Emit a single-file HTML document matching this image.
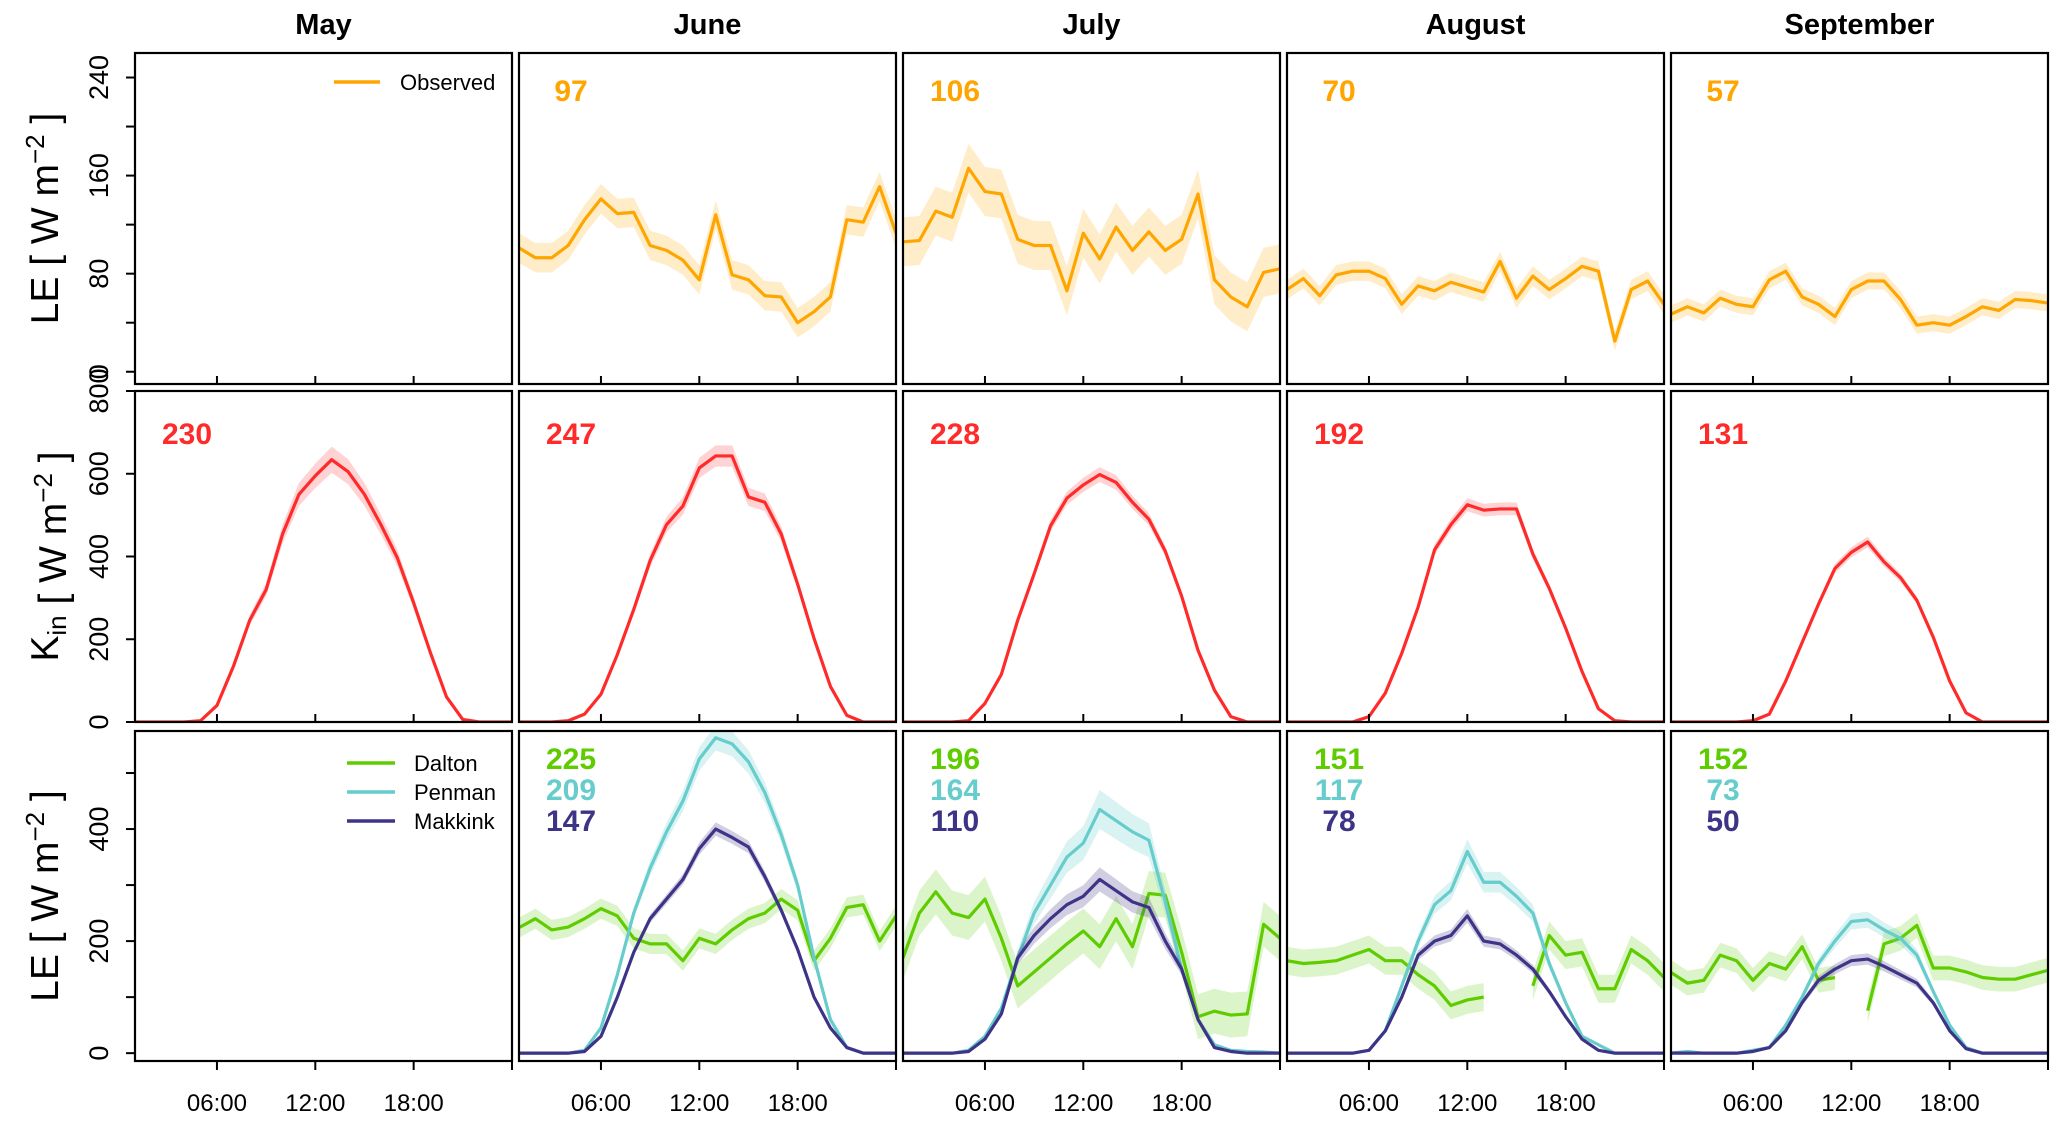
<!DOCTYPE html>
<html><head><meta charset="utf-8"><style>
html,body{margin:0;padding:0;background:#fff;}
svg text{font-family:"Liberation Sans",Arial,sans-serif;}
.nar{font-family:"Liberation Sans Narrow","Liberation Sans",sans-serif;font-weight:bold;}
</style></head><body>
<svg id="chart" width="2067" height="1123" viewBox="0 0 2067 1123" xmlns="http://www.w3.org/2000/svg"></svg>
<script>
const months = ["May","June","July","August","September"];
const hours = [1,2,3,4,5,6,7,8,9,10,11,12,13,14,15,16,17,18,19,20,21,22,23,24];
const xTicks = [6,12,18,24];
const xTickLabels = ["06:00","12:00","18:00",""];
const obsTicks = [0,40,80,120,160,200,240];
const obsTickLabels = ["0","","80","","160","","240"];
const kinTicks = [0,200,400,600,800];
const modTicks = [0,100,200,300,400,500];
const modTickLabels = ["0","","200","","400",""];
const obsMeanLabel = [null,"97","106","70","57"];
const kinMeanLabel = ["230","247","228","192","131"];
const daltonMeanLabel = [null,"225","196","151","152"];
const penmanMeanLabel = [null,"209","164","117","73"];
const makkinkMeanLabel = [null,"147","110","78","50"];

const obsJune = [101,93,93,103,124,141,129,130,103,99,91,75,128,79,75,62,61,40,49,61,124,122,151,113];
const obsJuly = [106,107,131,126,166,147,145,108,103,103,66,113,92,118,99,114,99,108,145,75,61,53,81,84];
const obsAug = [67,76,62,79,82,82,76,55,70,66,73,69,65,90,60,78,67,76,86,82,25,67,74,55];
const obsSep = [47,53,48,60,55,53,75,82,61,55,45,67,74,74,59,38,40,38,45,53,50,59,58,56];
const obsBand = [0,12,20,8,7];

const kinMay = [0,0,0,0,3,40,134,246,320,454,550,595,634,605,550,477,397,288,170,61,6,0,0,0];
const kinJune = [0,0,0,3,19,67,163,272,390,477,522,614,643,643,544,531,454,333,202,86,16,0,0,0];
const kinJuly = [0,0,0,0,3,45,115,246,358,474,541,573,598,579,531,490,413,304,173,77,13,0,0,0];
const kinAug = [0,0,0,0,0,13,70,166,278,416,477,525,512,515,515,406,323,227,122,32,3,0,0,0];
const kinSep = [0,0,0,0,0,3,19,99,192,285,371,410,435,387,349,294,205,99,22,0,0,0,0,0];
const kinBandFrac = [0.05,0.04,0.03,0.03,0.03];

const daltonJune = [224,240,220,225,240,258,245,205,195,195,165,205,195,220,240,250,275,255,165,205,260,265,200,245];
const daltonJuly = [170,250,288,250,242,275,205,120,145,170,195,218,190,240,190,285,282,180,65,75,68,70,230,205];
const daltonAug = [165,160,162,165,175,185,165,165,140,120,85,95,100,null,null,120,210,175,180,115,115,185,165,135];
const daltonSep = [144,125,130,175,165,130,160,150,190,130,135,null,76,195,205,228,152,152,145,135,132,132,140,148];
const penmanJune = [0,0,0,0,5,45,140,250,330,395,450,525,563,552,520,465,390,300,170,60,10,0,0,0];
const penmanJuly = [0,0,0,0,5,30,80,170,250,300,350,375,435,415,395,380,270,150,60,15,5,3,2,0];
const penmanAug = [0,0,0,0,0,5,40,120,200,265,290,360,305,305,280,250,160,90,30,15,0,0,0,0];
const penmanSep = [0,3,0,0,0,5,10,50,100,160,200,235,238,220,205,175,110,50,10,0,0,0,0,0];
const makkinkJune = [0,0,0,0,3,30,100,180,240,275,310,365,400,385,368,315,255,185,100,45,10,0,0,0];
const makkinkJuly = [0,0,0,0,3,25,70,170,210,240,265,280,310,290,270,260,200,150,60,10,3,0,0,0];
const makkinkAug = [0,0,0,0,0,5,40,100,175,200,210,245,200,195,175,150,110,65,25,5,0,0,0,0];
const makkinkSep = [0,0,0,0,0,3,10,40,90,130,150,165,168,155,140,125,90,40,8,0,0,0,0,0];
const daltonBand = [0,18,40,25,22];
const penmanBandFrac = [0,0.04,0.08,0.06,0.06];
const makkinkBandFrac = [0,0.03,0.07,0.05,0.06];

const obsSeries = [null,obsJune,obsJuly,obsAug,obsSep];
const kinSeries = [kinMay,kinJune,kinJuly,kinAug,kinSep];
const daltonSeries = [null,daltonJune,daltonJuly,daltonAug,daltonSep];
const penmanSeries = [null,penmanJune,penmanJuly,penmanAug,penmanSep];
const makkinkSeries = [null,makkinkJune,makkinkJuly,makkinkAug,makkinkSep];

const C = {obs:"#FFA500",obsF:"rgba(255,196,80,0.3)",kin:"#FF2A2A",kinF:"rgba(255,80,80,0.25)",
  dal:"#5FCC00",dalF:"rgba(110,210,40,0.25)",pen:"#66CCCC",penF:"rgba(102,204,204,0.25)",mak:"#3D3487",makF:"rgba(70,60,140,0.25)"};
const colX = [135,519,903,1287,1671], colW = 377;
const rows = [{top:53,bot:384,min:-10,max:260},{top:391,bot:722,min:0,max:800},{top:731,bot:1061,min:-14,max:575}];
const svg = document.getElementById('chart');
const NS = "http://www.w3.org/2000/svg";
function mk(tag, attrs, parent){const e=document.createElementNS(NS,tag);for(const k in attrs)e.setAttribute(k,attrs[k]);(parent||svg).appendChild(e);return e;}
function xS(c,h){return colX[c]+(h-1)/23*colW;}
function yS(r,v){const R=rows[r];return R.bot-(v-R.min)/(R.max-R.min)*(R.bot-R.top);}

const defs = mk('defs',{});
for(let r=0;r<3;r++)for(let c=0;c<5;c++){
  const cp=mk('clipPath',{id:'cp'+r+c},defs);
  mk('rect',{x:colX[c],y:rows[r].top,width:colW,height:rows[r].bot-rows[r].top},cp);
}
function segments(vals){const segs=[];let cur=[];vals.forEach((v,i)=>{if(v===null){if(cur.length)segs.push(cur);cur=[];}else cur.push(i);});if(cur.length)segs.push(cur);return segs;}
function drawSeries(r,c,vals,band,fracMode,col,fill,name){
  const g=mk('g',{'clip-path':'url(#cp'+r+c+')'});
  
  
  segments(vals).forEach(seg=>{
    let up=[],lo=[];
    seg.forEach(i=>{const b=fracMode?vals[i]*band:band;up.push(xS(c,hours[i])+','+yS(r,vals[i]+b));lo.unshift(xS(c,hours[i])+','+yS(r,vals[i]-b));});
    const p=mk('polygon',{points:up.concat(lo).join(' '),fill:fill,stroke:'none'},g);
    
    
    const l=mk('polyline',{points:seg.map(i=>xS(c,hours[i])+','+yS(r,vals[i])).join(' '),fill:'none',stroke:col,'stroke-width':3.2,'stroke-linejoin':'round'},g);
    
    
  });
}
function txt(x,y,s,attrs,name){const t=mk('text',Object.assign({x:x,y:y},attrs));t.textContent=s;return t;}

months.forEach((m,c)=>{txt(colX[c]+colW/2,34,m,{'font-size':29,'font-weight':'bold','text-anchor':'middle'},'month-title-'+m.toLowerCase());});

for(let c=0;c<5;c++){
  if(obsSeries[c]) drawSeries(0,c,obsSeries[c],obsBand[c],false,C.obs,C.obsF,'observed-le-'+months[c].toLowerCase());
  drawSeries(1,c,kinSeries[c],kinBandFrac[c],true,C.kin,C.kinF,'kin-'+months[c].toLowerCase());
  if(daltonSeries[c]){
    drawSeries(2,c,daltonSeries[c],daltonBand[c],false,C.dal,C.dalF,'dalton-'+months[c].toLowerCase());
    drawSeries(2,c,penmanSeries[c],penmanBandFrac[c],true,C.pen,C.penF,'penman-'+months[c].toLowerCase());
    drawSeries(2,c,makkinkSeries[c],makkinkBandFrac[c],true,C.mak,C.makF,'makkink-'+months[c].toLowerCase());
  }
}
for(let r=0;r<3;r++)for(let c=0;c<5;c++){
  const R=rows[r];
  const fr=mk('rect',{x:colX[c],y:R.top,width:colW,height:R.bot-R.top,fill:'none',stroke:'#000','stroke-width':2.2});
  
  
  xTicks.forEach((h,i)=>{
    const x=xS(c,h);
    if(r<2){ if(h<24) mk('line',{x1:x,x2:x,y1:R.bot,y2:R.bot-8,stroke:'#000','stroke-width':2}); }
    else { mk('line',{x1:x,x2:x,y1:R.bot,y2:R.bot+9,stroke:'#000','stroke-width':2});
      if(xTickLabels[i]) txt(x,1111,xTickLabels[i],{'font-size':24,'text-anchor':'middle'},'x-tick-label'); }
  });
}
function yAxis(r,ticks,labels){
  ticks.forEach((v,i)=>{const y=yS(r,v);mk('line',{x1:135,x2:126,y1:y,y2:y,stroke:'#000','stroke-width':2});
    if(labels[i]) txt(108,y,labels[i],{'font-size':27,'text-anchor':'middle',transform:'rotate(-90 108 '+y+')'},'y-tick-label');});
}
yAxis(0,obsTicks,obsTickLabels);
yAxis(1,kinTicks,kinTicks.map(String));
yAxis(2,modTicks,modTickLabels);
function yTitle(r,main,sub,name){
  const cy=(rows[r].top+rows[r].bot)/2;
  const t=mk('text',{x:58,y:cy,'font-size':39,'text-anchor':'middle',transform:'rotate(-90 58 '+cy+')'});
  
  
  const a=mk('tspan',{},t);a.textContent=main;
  if(sub){const s=mk('tspan',{'font-size':26,dy:8},t);s.textContent=sub;const b=mk('tspan',{dy:-8},t);b.textContent='';}
  const w=mk('tspan',{},t);w.textContent='  [ W m';
  const sp=mk('tspan',{'font-size':26,dy:-14},t);sp.textContent='\u22122';
  const e=mk('tspan',{dy:14},t);e.textContent=' ]';
}
yTitle(0,'LE',null,'y-axis-title-observed');
yTitle(1,'K',"in",'y-axis-title-kin');
yTitle(2,'LE',null,'y-axis-title-model');
for(let c=0;c<5;c++){
  const cx=colX[c]+52;
  if(obsMeanLabel[c]) txt(cx,101,obsMeanLabel[c],{'font-size':30,'text-anchor':'middle',fill:C.obs,'class':'nar'},'observed-mean-label');
  txt(cx,444,kinMeanLabel[c],{'font-size':30,'text-anchor':'middle',fill:C.kin,'class':'nar'},'kin-mean-label');
  if(daltonMeanLabel[c]){
    txt(cx,769,daltonMeanLabel[c],{'font-size':30,'text-anchor':'middle',fill:C.dal,'class':'nar'},'dalton-mean-label');
    txt(cx,800,penmanMeanLabel[c],{'font-size':30,'text-anchor':'middle',fill:C.pen,'class':'nar'},'penman-mean-label');
    txt(cx,831,makkinkMeanLabel[c],{'font-size':30,'text-anchor':'middle',fill:C.mak,'class':'nar'},'makkink-mean-label');
  }
}
function leg(y,col,label,x1,x2,tx){
  const l=mk('line',{x1:x1,x2:x2,y1:y,y2:y,stroke:col,'stroke-width':3.5});
  
  
  txt(tx,y+8,label,{'font-size':22},'legend-entry-'+label.toLowerCase());
}
leg(82,C.obs,'Observed',334,380,400);
leg(763,C.dal,'Dalton',347,395,414);
leg(792,C.pen,'Penman',347,395,414);
leg(821,C.mak,'Makkink',347,395,414);
</script>
</body></html>
